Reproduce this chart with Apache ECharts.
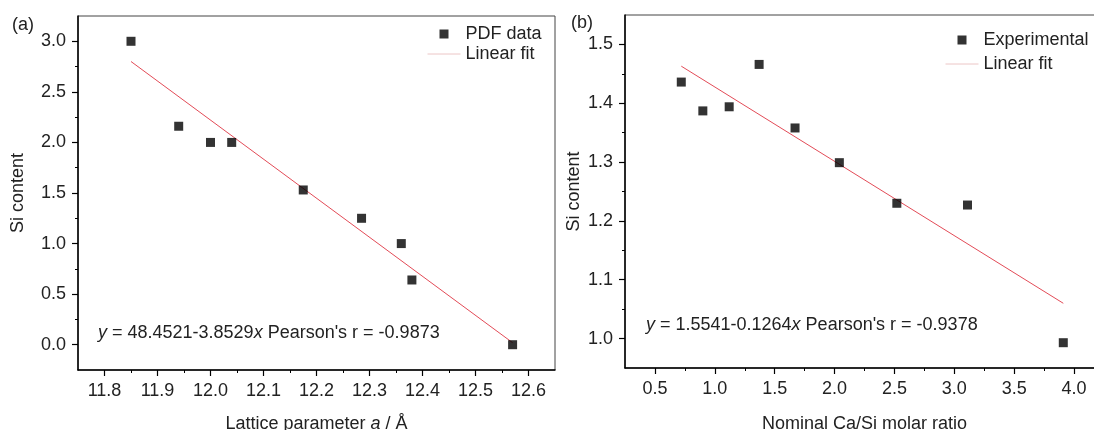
<!DOCTYPE html>
<html>
<head>
<meta charset="utf-8">
<script src="https://cdn.jsdelivr.net/npm/echarts@6/dist/echarts.min.js"></script>
<style>
  html, body { margin: 0; padding: 0; background: #fff; }
  #chart { width: 1094px; height: 430px; }
</style>
</head>
<body>
<div id="chart"></div>
<script>
// panel (a): Si content vs lattice parameter
const latticeA = [11.85, 11.94, 12.0, 12.04, 12.175, 12.285, 12.36, 12.38, 12.57];
const siContentA = [3.0, 2.16, 2.0, 2.0, 1.53, 1.25, 1.0, 0.64, 0.0];
const fitXA = [11.85, 12.57];
const fitYA = [2.80, 0.02];
const xTicksA = [11.8, 11.9, 12.0, 12.1, 12.2, 12.3, 12.4, 12.5, 12.6];
const xMinorA = [11.85, 11.95, 12.05, 12.15, 12.25, 12.35, 12.45, 12.55];
const yTicksA = [0, 0.5, 1.0, 1.5, 2.0, 2.5, 3.0];
const yMinorA = [0.25, 0.75, 1.25, 1.75, 2.25, 2.75];

// panel (b): Si content vs nominal Ca/Si ratio
const ratioB = [0.72, 0.9, 1.12, 1.37, 1.67, 2.04, 2.52, 3.11, 3.91];
const siContentB = [1.436, 1.387, 1.394, 1.466, 1.358, 1.299, 1.230, 1.227, 0.993];
const fitXB = [0.72, 3.91];
const fitYB = [1.463, 1.060];
const xTicksB = [0.5, 1.0, 1.5, 2.0, 2.5, 3.0, 3.5, 4.0];
const xMinorB = [0.75, 1.25, 1.75, 2.25, 2.75, 3.25, 3.75];
const yTicksB = [1.0, 1.1, 1.2, 1.3, 1.4, 1.5];
const yMinorB = [1.05, 1.15, 1.25, 1.35, 1.45];

const FONT = '"Liberation Sans", Arial, sans-serif';
const TXT = '#222';
const RED = '#e34b57';
const SQUARE = 'path://M0,0h10v10h-10z';

const pairs = (xs, ys) => xs.map((x, i) => [x, ys[i]]);
const fmt = v => v.toFixed(1);

// major axis (line, ticks, labels)
const majorAxis = (grid, min, max, ticks, margin, extra) => Object.assign({
  type: 'value', gridIndex: grid, min: min, max: max,
  axisLine: { show: true, onZero: false, lineStyle: { color: '#000', width: 1.5 } },
  axisTick: { show: true, inside: false, length: 6, customValues: ticks, lineStyle: { color: '#000', width: 1.2 } },
  axisLabel: { customValues: ticks, formatter: fmt, fontSize: 18, fontFamily: FONT, color: TXT, margin: margin },
  splitLine: { show: false }
}, extra);

// minor ticks only
const minorAxis = (grid, min, max, ticks, pos) => ({
  type: 'value', gridIndex: grid, min: min, max: max, position: pos,
  axisLine: { show: false, onZero: false },
  axisTick: { show: true, inside: false, length: 3, customValues: ticks, lineStyle: { color: '#000', width: 1 } },
  axisLabel: { show: false },
  splitLine: { show: false }
});

const nameStyle = {
  fontSize: 18, fontFamily: FONT, color: TXT,
  rich: { i: { fontSize: 18, fontFamily: FONT, color: TXT, fontStyle: 'italic' } }
};

const legendText = { fontSize: 18, fontFamily: FONT, color: TXT, lineHeight: 18 };
const fitLegendItem = { name: 'Linear fit', itemStyle: { opacity: 0 }, lineStyle: { color: '#ecc6c6', width: 1 } };

const chart = echarts.init(document.getElementById('chart'));

chart.setOption({
  animation: false,
  backgroundColor: '#fff',
  grid: [
    { left: 78, top: 16, width: 477, height: 354, containLabel: false, outerBoundsMode: 'none',
      show: true, borderColor: '#444', borderWidth: 1 },
    { left: 625, top: 15, width: 479, height: 353, containLabel: false, outerBoundsMode: 'none',
      show: true, borderColor: '#444', borderWidth: 1 }
  ],
  xAxis: [
    majorAxis(0, 11.75, 12.65, xTicksA, 12, {
      position: 'bottom', name: 'Lattice parameter {i|a} / Å', nameLocation: 'middle', nameGap: 45, nameTextStyle: nameStyle
    }),
    minorAxis(0, 11.75, 12.65, xMinorA, 'bottom'),
    majorAxis(1, 0.25, 4.25, xTicksB, 12, {
      position: 'bottom', name: 'Nominal Ca/Si molar ratio', nameLocation: 'middle', nameGap: 47, nameTextStyle: nameStyle
    }),
    minorAxis(1, 0.25, 4.25, xMinorB, 'bottom')
  ],
  yAxis: [
    majorAxis(0, -0.25, 3.25, yTicksA, 12, {
      position: 'left', name: 'Si content', nameLocation: 'middle', nameGap: 51, nameTextStyle: nameStyle
    }),
    minorAxis(0, -0.25, 3.25, yMinorA, 'left'),
    majorAxis(1, 0.95, 1.55, yTicksB, 12, {
      position: 'left', name: 'Si content', nameLocation: 'middle', nameGap: 42, nameTextStyle: nameStyle
    }),
    minorAxis(1, 0.95, 1.55, yMinorB, 'left')
  ],
  legend: [
    {
      left: 422, top: 20, orient: 'vertical', itemWidth: 33, itemHeight: 9, itemGap: 2,
      symbolKeepAspect: true, textStyle: legendText,
      data: [{ name: 'PDF data', icon: SQUARE }, fitLegendItem]
    },
    {
      left: 940, top: 26, orient: 'vertical', itemWidth: 33, itemHeight: 9, itemGap: 6,
      symbolKeepAspect: true, textStyle: legendText,
      data: [{ name: 'Experimental', icon: SQUARE }, fitLegendItem]
    }
  ],
  graphic: [
    { type: 'text', x: 12, y: 25, style: { text: '(a)', fontSize: 18, fontFamily: FONT, fill: TXT, verticalAlign: 'middle' } },
    { type: 'text', x: 571, y: 23, style: { text: '(b)', fontSize: 18, fontFamily: FONT, fill: TXT, verticalAlign: 'middle' } },
    {
      type: 'text', x: 98, y: 333,
      style: {
        text: "{i|y} = 48.4521-3.8529{i|x} Pearson's r = -0.9873",
        fontSize: 18, fontFamily: FONT, fill: TXT, verticalAlign: 'middle',
        rich: { i: { fontSize: 18, fontFamily: FONT, fill: TXT, fontStyle: 'italic' } }
      }
    },
    {
      type: 'text', x: 646, y: 325,
      style: {
        text: "{i|y} = 1.5541-0.1264{i|x} Pearson's r = -0.9378",
        fontSize: 18, fontFamily: FONT, fill: TXT, verticalAlign: 'middle',
        rich: { i: { fontSize: 18, fontFamily: FONT, fill: TXT, fontStyle: 'italic' } }
      }
    }
  ],
  series: [
    {
      name: 'Linear fit', type: 'line', xAxisIndex: 0, yAxisIndex: 0,
      data: pairs(fitXA, fitYA), symbol: 'none', lineStyle: { color: RED, width: 1 }, itemStyle: { color: RED }, z: 2
    },
    {
      name: 'PDF data', type: 'scatter', xAxisIndex: 0, yAxisIndex: 0,
      data: pairs(latticeA, siContentA), symbol: 'rect', symbolSize: 9, itemStyle: { color: '#000' }, z: 3
    },
    {
      name: 'Linear fit', type: 'line', xAxisIndex: 2, yAxisIndex: 2,
      data: pairs(fitXB, fitYB), symbol: 'none', lineStyle: { color: RED, width: 1 }, itemStyle: { color: RED }, z: 2
    },
    {
      name: 'Experimental', type: 'scatter', xAxisIndex: 2, yAxisIndex: 2,
      data: pairs(ratioB, siContentB), symbol: 'rect', symbolSize: 9, itemStyle: { color: '#000' }, z: 3
    }
  ]
});

window.addEventListener('resize', () => chart.resize());
</script>
</body>
</html>
